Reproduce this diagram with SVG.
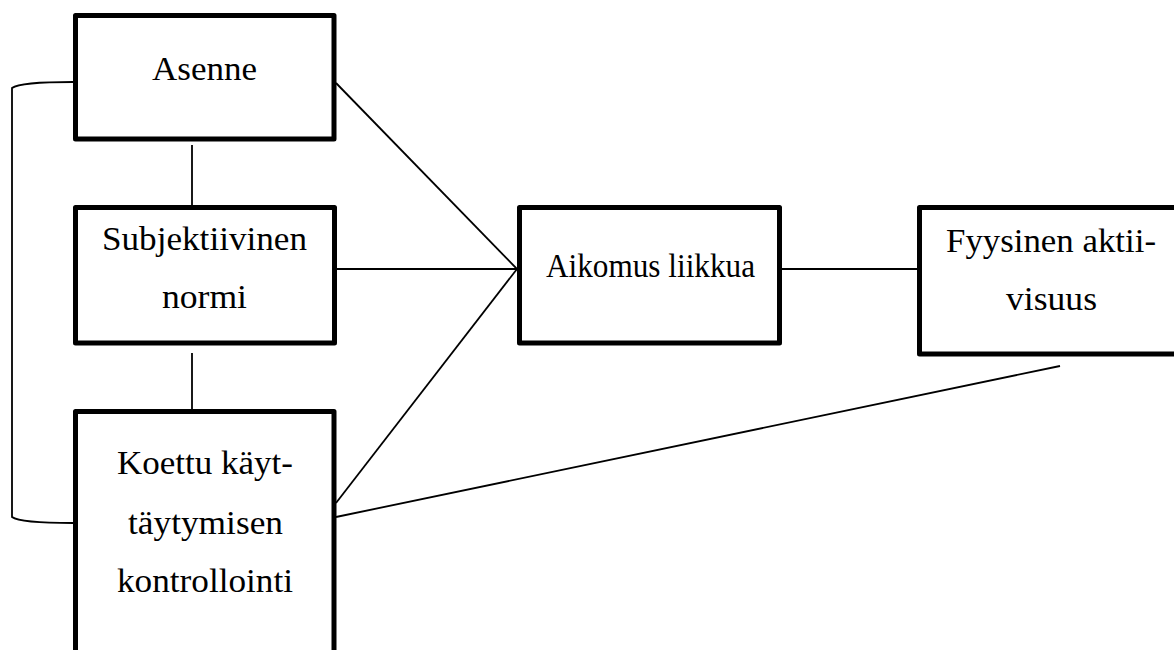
<svg xmlns="http://www.w3.org/2000/svg" width="1174" height="650" viewBox="0 0 1174 650">
<style>
.box{fill:#fff;stroke:#000;stroke-width:5;stroke-linejoin:round}
.lbl{font-family:"Liberation Serif","Times New Roman",serif;font-size:34px;fill:#000;text-anchor:middle}
.con{fill:none;stroke:#000;stroke-width:1.8}
</style>
<rect width="1174" height="650" fill="#fff"/>
<g id="connectors">
<path class="con" d="M73,82 Q20,82 12,88 L12,517 Q20,523 73,523"/>
<line class="con" x1="192" y1="145" x2="192" y2="209"/>
<line class="con" x1="192" y1="353" x2="192" y2="409"/>
<line class="con" x1="336" y1="83" x2="517" y2="269"/>
<line class="con" x1="337" y1="269" x2="517" y2="269"/>
<line class="con" x1="336" y1="503" x2="517" y2="269"/>
<line class="con" x1="336" y1="517" x2="1060" y2="366"/>
<line class="con" x1="782" y1="269" x2="917" y2="269"/>
</g>
<g id="asenne">
<rect class="box" x="75.5" y="15.5" width="258.5" height="123.5"/>
<text class="lbl" x="204.5" y="80" textLength="105" lengthAdjust="spacingAndGlyphs">Asenne</text>
</g>
<g id="subjektiivinen">
<rect class="box" x="75.5" y="207.5" width="259" height="135.5"/>
<text class="lbl" x="204.5" y="250" textLength="205" lengthAdjust="spacingAndGlyphs">Subjektiivinen</text>
<text class="lbl" x="204.5" y="308" textLength="85" lengthAdjust="spacingAndGlyphs">normi</text>
</g>
<g id="koettu">
<rect class="box" x="75.5" y="411.5" width="258.5" height="245"/>
<text class="lbl" x="205" y="474" textLength="176" lengthAdjust="spacingAndGlyphs">Koettu käyt-</text>
<text class="lbl" x="205.5" y="534" textLength="155" lengthAdjust="spacingAndGlyphs">täytymisen</text>
<text class="lbl" x="205" y="592" textLength="176" lengthAdjust="spacingAndGlyphs">kontrollointi</text>
</g>
<g id="aikomus">
<rect class="box" x="519.5" y="207.5" width="260" height="135.5"/>
<text class="lbl" x="650.5" y="277" textLength="209" lengthAdjust="spacingAndGlyphs">Aikomus liikkua</text>
</g>
<g id="fyysinen">
<rect class="box" x="919.5" y="207.5" width="262" height="146.5"/>
<text class="lbl" x="1051" y="252" textLength="210" lengthAdjust="spacingAndGlyphs">Fyysinen aktii-</text>
<text class="lbl" x="1051.5" y="310" textLength="91" lengthAdjust="spacingAndGlyphs">visuus</text>
</g>
</svg>
